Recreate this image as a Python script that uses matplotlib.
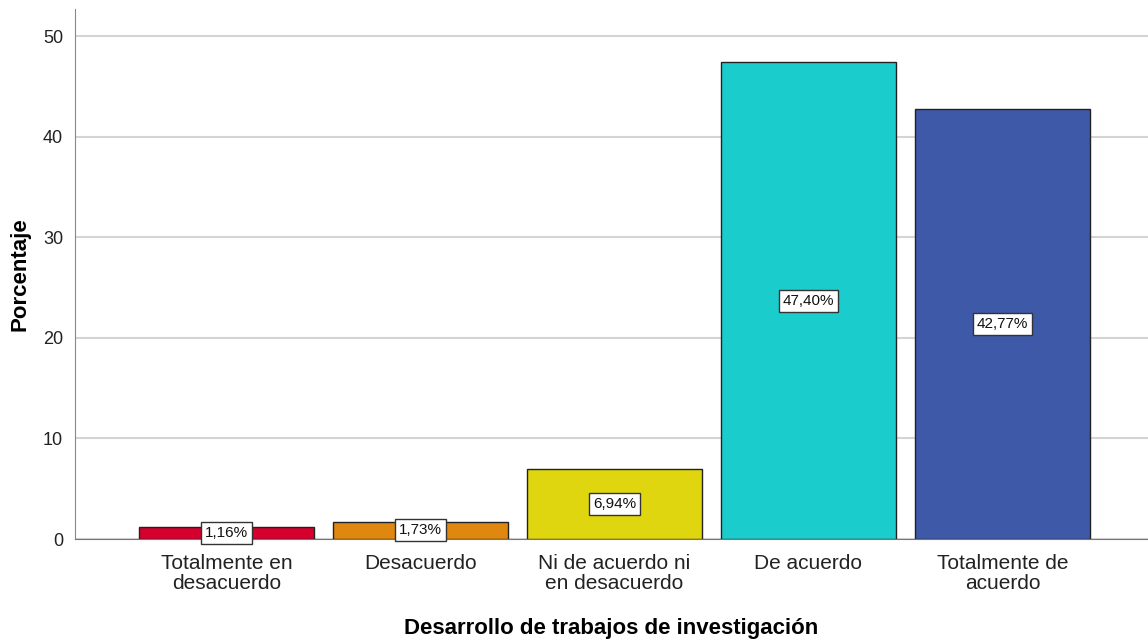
import matplotlib
matplotlib.use('Agg')
import matplotlib.pyplot as plt

categorias = ['Totalmente en\ndesacuerdo', 'Desacuerdo', 'Ni de acuerdo ni\nen desacuerdo',
              'De acuerdo', 'Totalmente de\nacuerdo']
porcentajes = [1.16, 1.73, 6.94, 47.40, 42.77]
etiquetas = ['1,16%', '1,73%', '6,94%', '47,40%', '42,77%']
colores = ['#D6002F', '#E0870F', '#E0D60F', '#1ACDCC', '#3E59A8']

plt.rcParams['font.family'] = ['Liberation Sans', 'DejaVu Sans']

fig = plt.figure(figsize=(11.48, 6.41), dpi=100)
ax = fig.add_axes([0.0653, 0.159, 0.9347, 0.827])

x = list(range(len(categorias)))
ax.bar(x, porcentajes, width=0.9, color=colores, edgecolor='#222222', linewidth=1.0, zorder=3)

# etiquetas en el centro de cada barra
for xi, v, t in zip(x, porcentajes, etiquetas):
    ax.text(xi, v / 2, t, ha='center', va='center', fontsize=11, color='#111111', zorder=4,
            bbox=dict(boxstyle='square,pad=0.26', facecolor='white', edgecolor='#333333', linewidth=1))

ax.set_xlim(-0.78, 4.75)
ax.set_ylim(0, 52.7)
ax.set_yticks([0, 10, 20, 30, 40, 50])
ax.set_xticks(x)
ax.set_xticklabels(categorias, fontsize=15, color='#222222', linespacing=1.05)
ax.tick_params(axis='y', labelsize=13, length=0, pad=8.5, colors='#222222')
ax.tick_params(axis='x', length=0, pad=11)

ax.grid(axis='y', color='#D4D4D4', linewidth=1.5, zorder=0)
for s in ['top', 'right']:
    ax.spines[s].set_visible(False)
ax.spines['left'].set_color('#888888')
ax.spines['bottom'].set_color('#777777')

ax.set_ylabel('Porcentaje', fontsize=16, fontweight='bold', labelpad=9)
ax.set_xlabel('Desarrollo de trabajos de investigación', fontsize=16, fontweight='bold', labelpad=18)

fig.savefig('out.png', dpi=100)
